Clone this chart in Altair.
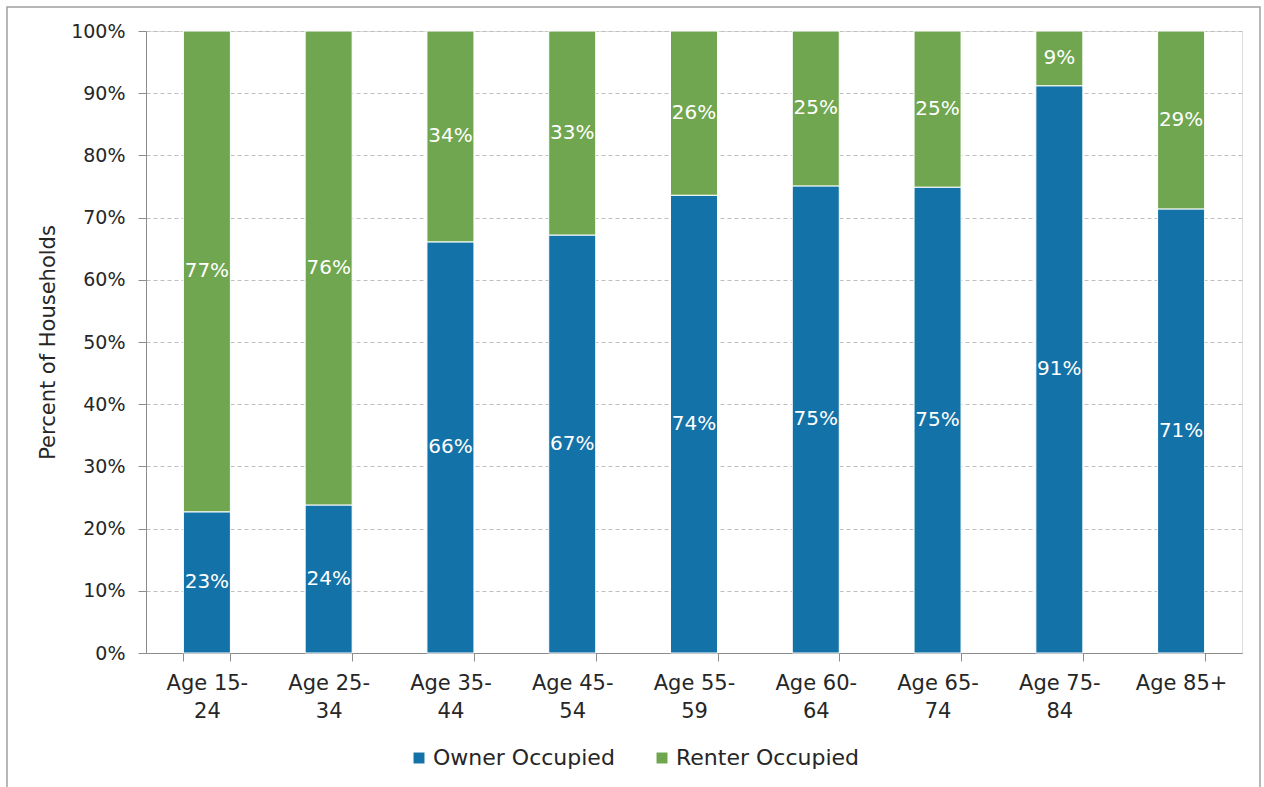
import altair as alt
import pandas as pd

# Household tenure by age of householder (share of households)
age_groups = ["Age 15-24", "Age 25-34", "Age 35-44", "Age 45-54", "Age 55-59",
              "Age 60-64", "Age 65-74", "Age 75-84", "Age 85+"]
owner_pct = [22.7, 23.8, 66.1, 67.2, 73.6, 75.1, 74.9, 91.2, 71.4]
renter_pct = [77.3, 76.2, 33.9, 32.8, 26.4, 24.9, 25.1, 8.8, 28.6]
tenure = ["Owner Occupied", "Renter Occupied"]
tenure_colors = ["#1372A7", "#70A64F"]
y_ticks = [0, 0.1, 0.2, 0.3, 0.4, 0.5, 0.6, 0.7, 0.8, 0.9, 1.0]

rows = []
for i, age in enumerate(age_groups):
    rows.append({"age": age, "tenure": tenure[0], "rank": 0, "share": owner_pct[i] / 100})
    rows.append({"age": age, "tenure": tenure[1], "rank": 1, "share": renter_pct[i] / 100})
df = pd.DataFrame(rows)

FONT = "DejaVu Sans"
AXIS_GREY = "#8C8C8C"
TEXT = "#262626"

# split "Age 15-24" after the hyphen into two lines
wrap_expr = ("indexof(datum.label, '-') > 0 ? "
             "[substring(datum.label, 0, indexof(datum.label, '-') + 1), "
             "substring(datum.label, indexof(datum.label, '-') + 1)] : datum.label")

x_enc = alt.X(
    "age:N", sort=age_groups, title=None,
    scale=alt.Scale(paddingInner=0.614, paddingOuter=0.307),
    axis=alt.Axis(labelAngle=0, labelExpr=wrap_expr, tickBand="extent",
                  domainColor=AXIS_GREY, tickColor=AXIS_GREY, tickSize=8,
                  labelFont=FONT, labelFontSize=21, labelColor=TEXT,
                  labelLineHeight=28, labelPadding=11, grid=False),
)

base = alt.Chart(df)

bars = base.mark_bar(stroke="white", strokeWidth=1).encode(
    x=x_enc,
    y=alt.Y(
        "share:Q", stack="zero",
        scale=alt.Scale(domain=[0, 1], nice=False),
        axis=alt.Axis(values=y_ticks, format=".0%", title="Percent of Households",
                      titleFont=FONT, titleFontSize=21, titleFontWeight="normal",
                      titleColor=TEXT, titleX=-88, titleY=311,
                      labelFont=FONT, labelFontSize=19, labelColor=TEXT,
                      labelPadding=13, tickSize=8, tickColor=AXIS_GREY,
                      domainColor=AXIS_GREY, gridColor="#BFBFBF",
                      gridDash=[4, 3], gridWidth=1),
    ),
    color=alt.Color(
        "tenure:N",
        scale=alt.Scale(domain=tenure, range=tenure_colors),
        legend=alt.Legend(title=None, orient="none", direction="horizontal",
                          legendX=262, legendY=716, symbolType="square",
                          symbolSize=120, symbolStrokeWidth=0,
                          labelFont=FONT, labelFontSize=22, labelColor=TEXT,
                          labelLimit=400, labelOffset=3, columnPadding=36),
    ),
    order=alt.Order("rank:Q"),
)

labels = base.transform_stack(
    stack="share", groupby=["age"], as_=["lo", "hi"],
    sort=[alt.SortField("rank", order="ascending")],
).transform_calculate(
    mid="(datum.lo + datum.hi) / 2"
).mark_text(color="white", font=FONT, fontSize=20).encode(
    x=alt.X("age:N", sort=age_groups),
    y=alt.Y("mid:Q"),
    text=alt.Text("share:Q", format=".0%"),
)

# outer chart frame
frame = alt.Chart(pd.DataFrame({"f": [0]})).mark_rect(
    fill="transparent", stroke="#A0A0A0", strokeWidth=1.5
).encode(
    x=alt.value(-139), x2=alt.value(1114),
    y=alt.value(-24), y2=alt.value(770),
)

chart = alt.layer(frame, bars, labels).properties(
    width=1096, height=622,
    autosize=alt.AutoSizeParams(type="none"),
    padding={"left": 146, "top": 31, "right": 22, "bottom": 134},
).configure_view(stroke=None).configure(background="white")

chart.save("out.html", embed_options={"renderer": "svg", "actions": False})
